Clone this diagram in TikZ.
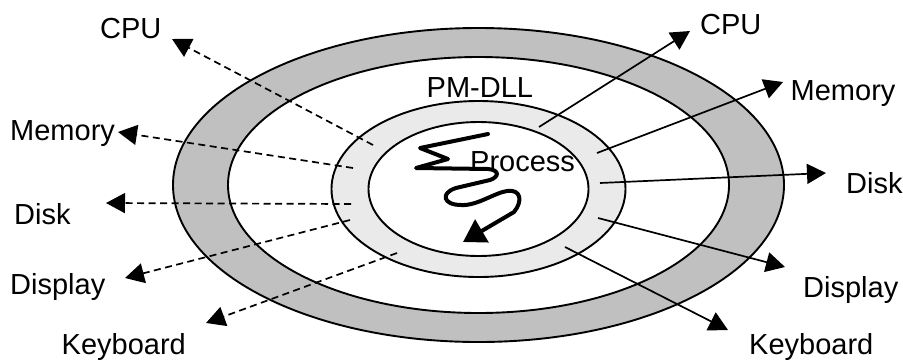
\documentclass[tikz,border=0pt]{standalone}
\usepackage{fontspec}
\setmainfont{Liberation Sans}
\usetikzlibrary{arrows.meta}
\definecolor{ringdark}{RGB}{192,192,192}
\definecolor{ringlight}{RGB}{234,234,234}
\begin{document}
\begin{tikzpicture}[x=1pt,y=-1pt,
  outline/.style={draw=black,line width=1.9pt},
  lbl/.style={inner sep=0pt,anchor=base west,font=\fontsize{29}{32}\selectfont},
  tip/.style={-{Triangle[length=19pt,width=20pt]}},
  outarrow/.style={tip,line width=1.7pt},
  inarrow/.style={tip,line width=1.7pt,dash pattern=on 7pt off 4.5pt},
  squig/.style={line width=4pt,line join=round,line cap=round,-{Triangle[length=22pt,width=26pt]}}]
\useasboundingbox (0,0) rectangle (903,360);

% concentric rings
\coordinate (c1) at (478.5,185);
\coordinate (c2) at (478.5,189);
\fill[ringdark] (c1) ellipse [x radius=305.5pt, y radius=157pt];
\fill[white] (c1) ellipse [x radius=250.5pt, y radius=128pt];
\fill[ringlight] (c2) ellipse [x radius=147pt, y radius=88pt];
\fill[white] (c2) ellipse [x radius=110pt, y radius=67pt];
\draw[outline] (c1) ellipse [x radius=305.5pt, y radius=157pt];
\draw[outline] (c1) ellipse [x radius=250.5pt, y radius=128pt];
\draw[outline] (c2) ellipse [x radius=147pt, y radius=88pt];
\draw[outline] (c2) ellipse [x radius=110pt, y radius=67pt];

% layer labels
\node[lbl] (pmdll) at (426.5,97) {PM-DLL};
\node[lbl] (proc) at (470,171.5) {Process};

% the running process
\coordinate (sqtip) at (463,242);
\draw[squig] (488,134) -- (420,148) -- (448,159) -- (416,168) -- (488,169)
  .. controls (500,170) and (499,177) .. (490,180) -- (456,188)
  .. controls (440,193) and (443,205) .. (461,205)
  .. controls (477,206) and (494,193) .. (507,191)
  .. controls (521,189) and (523,201) .. (514,212) -- (sqtip);

% right side resources
\node[lbl] (cpuR) at (700,34) {CPU};
\node[lbl] (memR) at (790.5,100) {Memory};
\node[lbl] (diskR) at (846,193.5) {Disk};
\node[lbl] (dispR) at (803,297) {Display};
\node[lbl] (keyR) at (749,354) {Keyboard};

\coordinate (r1) at (539,127);  \coordinate (R1) at (690,31);
\coordinate (r2) at (597,153);  \coordinate (R2) at (783,82);
\coordinate (r3) at (600,183);  \coordinate (R3) at (826,173);
\coordinate (r4) at (598,218);  \coordinate (R4) at (785,267);
\coordinate (r5) at (565,247);  \coordinate (R5) at (728,330);
\draw[outarrow] (r1) -- (R1);
\draw[outarrow] (r2) -- (R2);
\draw[outarrow] (r3) -- (R3);
\draw[outarrow] (r4) -- (R4);
\draw[outarrow] (r5) -- (R5);

% left side resources
\node[lbl] (cpuL) at (100,38.5) {CPU};
\node[lbl] (memL) at (10,140) {Memory};
\node[lbl] (diskL) at (14,224) {Disk};
\node[lbl] (dispL) at (10,294) {Display};
\node[lbl] (keyL) at (61.5,354) {Keyboard};

\coordinate (l1) at (373,145);  \coordinate (L1) at (172,39);
\coordinate (l2) at (353,168);  \coordinate (L2) at (118,132);
\coordinate (l3) at (351,204);  \coordinate (L3) at (106,203);
\coordinate (l4) at (350,220);  \coordinate (L4) at (125,278);
\coordinate (l5) at (397,253);  \coordinate (L5) at (206,323);
\draw[inarrow] (l1) -- (L1);
\draw[inarrow] (l2) -- (L2);
\draw[inarrow] (l3) -- (L3);
\draw[inarrow] (l4) -- (L4);
\draw[inarrow] (l5) -- (L5);
\end{tikzpicture}
\end{document}
